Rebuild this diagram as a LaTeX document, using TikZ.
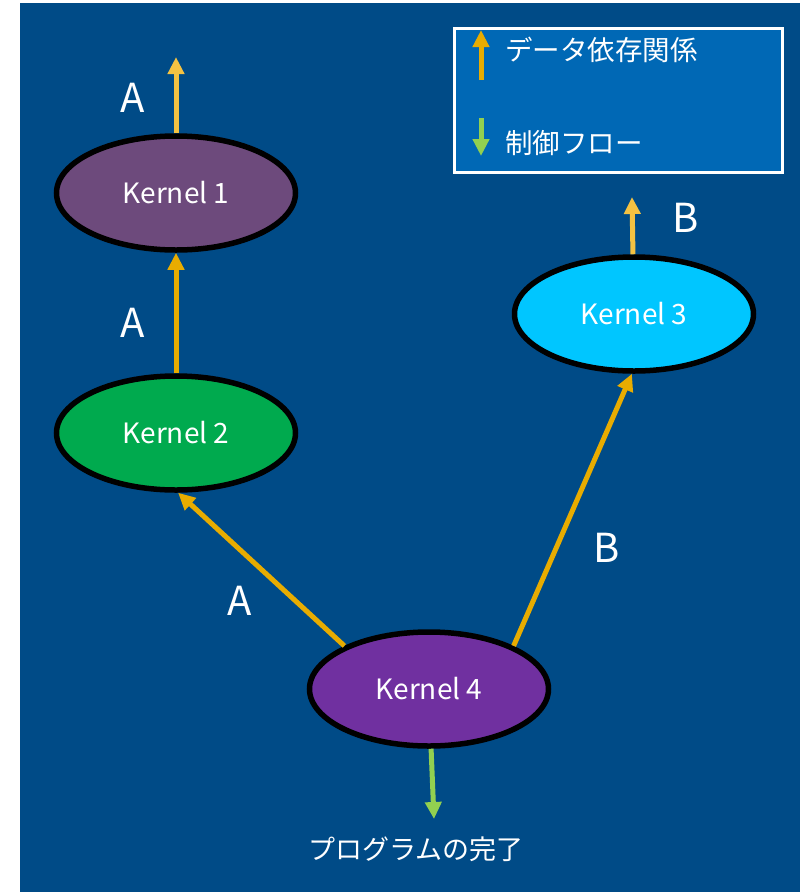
\documentclass[tikz,border=0pt]{standalone}
\usepackage{fontspec}
\setmainfont{Noto Sans CJK JP}
\usetikzlibrary{shapes.geometric,arrows.meta}
\definecolor{bgblue}{HTML}{004B87}
\definecolor{legblue}{HTML}{0068B5}
\definecolor{kone}{HTML}{6D4A7C}
\definecolor{ktwo}{HTML}{00AA4E}
\definecolor{kthree}{HTML}{00C6FF}
\definecolor{kfour}{HTML}{7030A0}
\definecolor{dep}{HTML}{E8AC00}
\definecolor{deplight}{HTML}{F4C242}
\definecolor{ctrl}{HTML}{92D050}
\tikzset{
  kernel/.style={ellipse, draw=black, line width=5.5pt, minimum width=239pt, minimum height=114pt, inner sep=0pt, text=white, font=\fontsize{28}{30}\selectfont},
  deparrow/.style={draw=dep, line width=5pt, -{Triangle[width=16pt,length=17pt]}},
  deplightarrow/.style={draw=deplight, line width=5pt, -{Triangle[width=16pt,length=17pt]}},
  ctrlarrow/.style={draw=ctrl, line width=5pt, -{Triangle[width=16pt,length=17pt]}},
  biglabel/.style={text=white, font=\fontsize{40}{44}\selectfont, inner sep=0pt},
  jtext/.style={text=white, font=\fontsize{27.5}{30}\selectfont, inner sep=0pt, anchor=west},
}
\begin{document}
\begin{tikzpicture}[x=1pt,y=-1pt]
\useasboundingbox (0,0) rectangle (800,892);
\fill[bgblue] (20,3) rectangle (800,892);
% legend
\node[draw=white, line width=2.5pt, fill=legblue, minimum width=328pt, minimum height=144pt, inner sep=0pt, anchor=north west] (legend) at (453,27) {};
\coordinate (l1a) at (481,80);
\coordinate (l1b) at (481,30);
\coordinate (l2a) at (481,118);
\coordinate (l2b) at (481,156);
\draw[deparrow] (l1a) -- (l1b);
\draw[ctrlarrow] (l2a) -- (l2b);
\node[jtext] (lt1) at (505,50) {データ依存関係};
\node[jtext] (lt2) at (505,143) {制御フロー};
% kernels
\node[kernel, fill=kone] (k1) at (176,193) {Kernel 1};
\node[kernel, fill=ktwo] (k2) at (176,433) {Kernel 2};
\node[kernel, fill=kthree] (k3) at (634,314) {Kernel 3};
\node[kernel, fill=kfour] (k4) at (429,689) {Kernel 4};
% arrows
\coordinate (k1out) at (176,57);
\coordinate (k3out) at (632,197);
\coordinate (k4out) at (434,819);
\draw[deplightarrow] (k1.north) -- (k1out);
\draw[deparrow] (k2.north) -- (k1.south);
\draw[deparrow] (k4.153) -- (k2.-88);
\draw[deparrow] (k4.27) -- (k3.-92);
\draw[deplightarrow] (k3.91) -- (k3out);
\draw[ctrlarrow] (k4.-88) -- (k4out);
% labels
\node[biglabel] (la1) at (133,98) {A};
\node[biglabel] (la2) at (133,323) {A};
\node[biglabel] (la3) at (240,601) {A};
\node[biglabel] (lb1) at (607,548) {B};
\node[biglabel] (lb2) at (686,218) {B};
\node[text=white, font=\fontsize{27}{30}\selectfont, inner sep=0pt] (done) at (416,849) {プログラムの完了};
\end{tikzpicture}
\end{document}
